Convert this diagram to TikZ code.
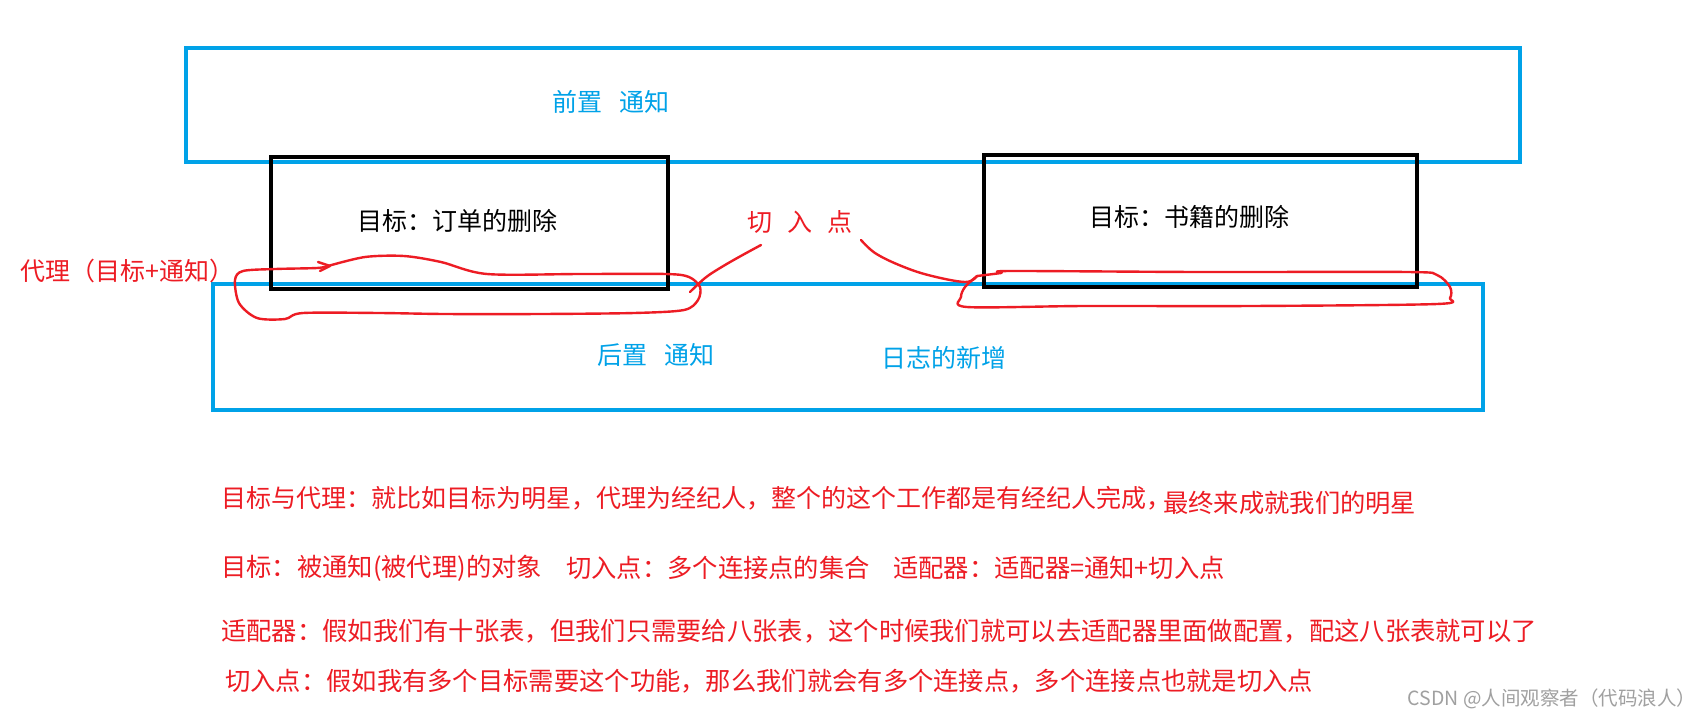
\documentclass[tikz,border=0pt]{standalone}
\usepackage{fontspec}
\setmainfont{Noto Sans CJK SC}
\definecolor{pblue}{HTML}{00A2E8}
\definecolor{pred}{HTML}{ED1C24}
\definecolor{wgray}{HTML}{A0A0A0}
\tikzset{
  bluebox/.style={draw=pblue,line width=4.5pt},
  blackbox/.style={draw=black,line width=4.6pt},
  scribble/.style={draw=pred,line width=2.4pt,line cap=round,line join=round},
  bluetxt/.style={text=pblue,font=\fontsize{25}{29}\selectfont,inner sep=0pt},
  blacktxt/.style={text=black,font=\fontsize{25}{29}\selectfont,inner sep=0pt},
  redtxt/.style={text=pred,font=\fontsize{25}{29}\selectfont,inner sep=0pt},
  notetxt/.style={text=pred,font=\fontsize{25.3}{29}\selectfont,inner sep=0pt,anchor=west},
}
\begin{document}
\begin{tikzpicture}[x=1pt,y=-1pt]
\useasboundingbox (0,0) rectangle (1704,724);
\fill[white] (0,0) rectangle (1704,724);
% blue boxes
\draw[bluebox] (186,48) rectangle (1520,162);
\draw[bluebox] (213,284) rectangle (1483,410);
% black boxes
\draw[blackbox] (271,157) rectangle (668,289);
\draw[blackbox] (984,155) rectangle (1417,287);
% labels
\node[bluetxt] (pre) at (611,102) {前置\hspace{0.7em}通知};
\node[bluetxt] (post) at (656,355) {后置\hspace{0.7em}通知};
\node[bluetxt] (log) at (944,358) {日志的新增};
\node[blacktxt] (t1) at (457,221) {目标：订单的删除};
\node[blacktxt] (t2) at (1189,217) {目标：书籍的删除};
\node[redtxt] (cut) at (800,222) {切\hspace{0.6em}入\hspace{0.6em}点};
\node[redtxt,anchor=west] (proxy) at (20,271) {代理（目标+通知）};
% red scribbles
\coordinate (cutL) at (761,245);
\coordinate (cutR) at (861,240);
\draw[scribble] plot[smooth,tension=0.5] coordinates {
 (328,266) (365,257) (404,256) (441,262) (487,274) (580,274) (666,274) (689,277)
 (700,287) (698,300) (684,310) (634,313) (540,314) (445,314) (380,313) (303,313)
 (285,319) (257,318) (239,303) (235,280) (243,271) (275,269) (317,268) (328,266)};
\draw[scribble] (318,262) -- (330,266) -- (320,271);
\draw[scribble] plot[smooth,tension=0.6] coordinates {(690,292) (705,278) (720,268) (739,257) (cutL)};
\draw[scribble] plot[smooth,tension=0.6] coordinates {(cutR) (875,253) (899,265) (928,275) (965,282) (977,276)};
\draw[scribble] plot[smooth,tension=0.5] coordinates {
 (977,276) (1001,273) (1011,271) (1200,272) (1408,272) (1437,275) (1450,287)
 (1450,298) (1437,304) (1250,306) (1084,306) (967,307) (961,297) (965,287) (977,276)};
% notes
\node[notetxt,font=\fontsize{25}{29}\selectfont] (n1) at (221,498) {目标与代理：就比如目标为明星，代理为经纪人，整个的这个工作都是有经纪人完成，};
\node[notetxt] (n1b) at (1163,503) {最终来成就我们的明星};
\node[notetxt] (n2a) at (221,568) {目标：被通知(被代理)的对象};
\node[notetxt] (n2b) at (566,568) {切入点：多个连接点的集合};
\node[notetxt] (n2c) at (893,568) {适配器：适配器=通知+切入点};
\node[notetxt] (n3) at (221,631) {适配器：假如我们有十张表，但我们只需要给八张表，这个时候我们就可以去适配器里面做配置，配这八张表就可以了};
\node[notetxt] (n4) at (225,681) {切入点：假如我有多个目标需要这个功能，那么我们就会有多个连接点，多个连接点也就是切入点};
\node[text=wgray,font=\fontsize{19.5}{22}\selectfont,inner sep=0pt] (wm) at (1552,699) {CSDN @人间观察者（代码浪人）};
\end{tikzpicture}
\end{document}
